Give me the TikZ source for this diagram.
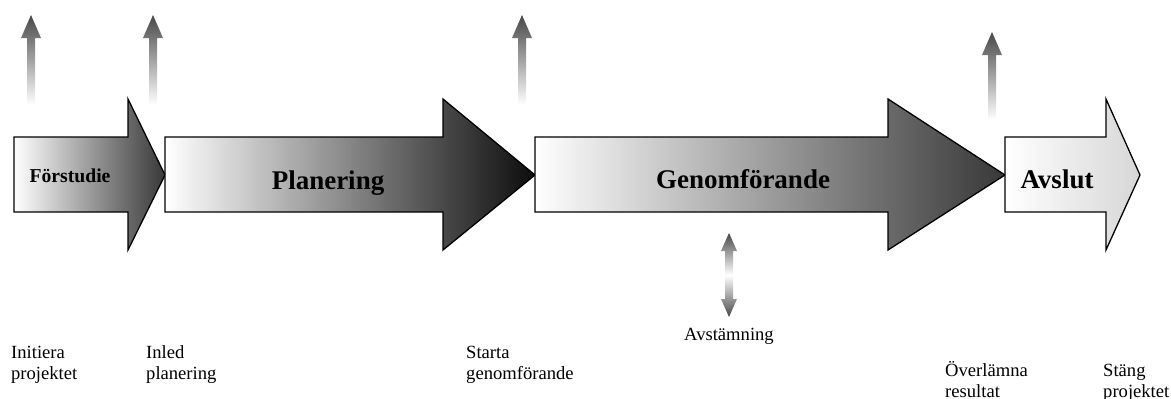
\documentclass[tikz,border=0pt]{standalone}
\usepackage{fontspec}
\setmainfont{Liberation Serif}

\tikzset{
  phase/.style={draw=black, line width=1.3pt, line join=miter},
  phaselabel/.style={font=\bfseries\fontsize{27}{30}\selectfont, inner sep=0pt, anchor=base},
  smalllabel/.style={font=\bfseries\fontsize{19.7}{22}\selectfont, inner sep=0pt, anchor=base},
  milestone/.style={font=\fontsize{18.6}{21}\selectfont, align=left, text width=150pt,
    inner sep=0pt, anchor=base west},
  signal/.style={top color=black!72, bottom color=white},
  tuning/.style={top color=black!72, bottom color=black!72, middle color=white},
}

\begin{document}
\begin{tikzpicture}[x=1pt, y=-1pt]
  \useasboundingbox (0,0) rectangle (1171,399);

  % the four phases
  \shade[phase, left color=white, right color=black!78]
    (14,137) -- (128,137) -- (128,99) -- (165,175) -- (128,250) -- (128,212) -- (14,212) -- cycle;
  \shade[phase, left color=white, right color=black!95]
    (165,137) -- (443,137) -- (443,99) -- (535,175) -- (443,250) -- (443,212) -- (165,212) -- cycle;
  \shade[phase, left color=white, right color=black!78]
    (535,137) -- (888,137) -- (888,99) -- (1005,175) -- (888,250) -- (888,212) -- (535,212) -- cycle;
  \shade[phase, left color=white, right color=black!16]
    (1005,137) -- (1106,137) -- (1106,99) -- (1140,175) -- (1106,250) -- (1106,212) -- (1005,212) -- cycle;

  \node[smalllabel] (forstudie) at (70,182) {Förstudie};
  \node[phaselabel] (planering) at (328,189) {Planering};
  \node[phaselabel] (genomforande) at (743,188) {Genomförande};
  \node[phaselabel] (avslut) at (1057,188) {Avslut};

  % milestone arrows
  \foreach \x/\top/\bot in {31/15/105, 153/15/105, 522/15/105, 992/32/120}
    \shade[signal] (\x-4,\bot) -- (\x-4,\top+23) -- (\x-10,\top+23) -- (\x,\top)
      -- (\x+10,\top+23) -- (\x+4,\top+23) -- (\x+4,\bot) -- cycle;

  \shade[tuning] (729,233) -- (737,251) -- (733,251) -- (733,299) -- (737,299) -- (729,317)
    -- (721,299) -- (725,299) -- (725,251) -- (721,251) -- cycle;

  \node[font=\fontsize{18.6}{21}\selectfont, inner sep=0pt, anchor=base] (avstamning) at (729,340) {Avstämning};

  \node[milestone] (initiera) at (11,358) {Initiera\\projektet};
  \node[milestone] (inled) at (146,358) {Inled\\planering};
  \node[milestone] (starta) at (466,358) {Starta\\genomförande};
  \node[milestone] (overlamna) at (945,376) {Överlämna\\resultat};
  \node[milestone] (stang) at (1103,376) {Stäng\\projektet};
\end{tikzpicture}
\end{document}
